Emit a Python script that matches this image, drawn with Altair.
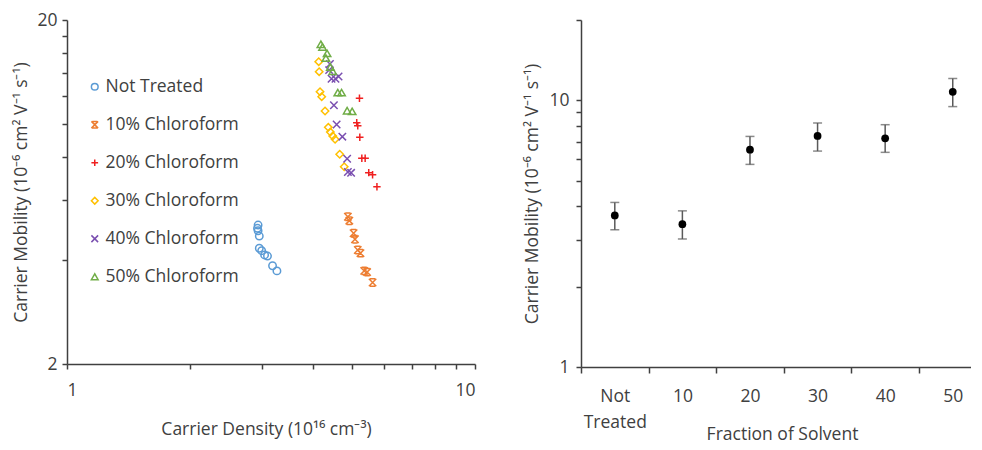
import altair as alt
import pandas as pd

# ---------------- Left panel data: carrier density vs mobility ----------------
series_names = ["Not Treated", "10% Chloroform", "20% Chloroform",
                "30% Chloroform", "40% Chloroform", "50% Chloroform"]

nt_x = [2.94, 2.93, 2.94, 2.96, 2.96, 3.00, 3.05, 3.10, 3.19, 3.27]
nt_y = [5.07, 4.96, 4.88, 4.71, 4.34, 4.27, 4.15, 4.12, 3.86, 3.73]

c10_x = [4.88, 4.92, 5.04, 5.08, 5.16, 5.24, 5.35, 5.44, 5.61]
c10_y = [5.36, 5.22, 4.80, 4.61, 4.29, 4.20, 3.73, 3.70, 3.45]

c20_x = [5.21, 5.13, 5.16, 5.22, 5.28, 5.38, 5.49, 5.61, 5.75]
c20_y = [11.84, 10.06, 9.85, 9.12, 7.93, 7.93, 7.20, 7.10, 6.55]

c30_x = [4.14, 4.15, 4.17, 4.21, 4.29, 4.37, 4.42, 4.48, 4.54, 4.66, 4.78]
c30_y = [15.13, 14.15, 12.38, 11.97, 10.88, 9.75, 9.45, 9.20, 9.00, 8.14, 7.49]

c40_x = [4.41, 4.39, 4.45, 4.55, 4.63, 4.51, 4.58, 4.73, 4.86, 4.88, 4.97]
c40_y = [14.9, 14.3, 13.5, 13.5, 13.7, 11.3, 9.94, 9.16, 7.90, 7.23, 7.19]

c50_x = [4.19, 4.23, 4.34, 4.31, 4.42, 4.48, 4.61, 4.71, 4.86, 5.00]
c50_y = [17.0, 16.7, 16.0, 15.5, 14.6, 14.2, 12.3, 12.3, 10.9, 10.85]

series_colors = ["#5B9BD5", "#ED7D31", "#F02020", "#FFC000", "#7A4FB0", "#70AD47"]
series_shapes = [
    "circle",
    "M-1,-1L1,1M1,-1L-1,1M-0.7,-1L0.7,-1M-0.7,1L0.7,1",
    "M0,-1L0,1M-1,0L1,0",
    "diamond",
    "M-1,-1L1,1M1,-1L-1,1",
    "triangle-up",
]

left_x_ticks = [1, 2, 3, 4, 5, 6, 7, 8, 9, 10]
left_x_labels = [1, 10]
left_y_ticks = [2, 4, 6, 8, 10, 12, 14, 16, 18, 20]
left_y_labels = [2, 20]

# ---------------- Right panel data: mobility vs solvent fraction ----------------
categories = ["Not Treated", "10", "20", "30", "40", "50"]
mobility = [3.70, 3.43, 6.53, 7.35, 7.20, 10.76]
err_high = [4.14, 3.85, 7.32, 8.22, 8.10, 12.07]
err_low = [3.27, 3.02, 5.75, 6.45, 6.38, 9.47]

right_y_ticks = [1, 2, 3, 4, 5, 6, 7, 8, 9, 10, 20]
right_y_labels = [1, 10]

FONT = "Open Sans"
TXT = "#404040"
FS = 17.5

rows = []
for name, xs, ys in zip(series_names,
                        [nt_x, c10_x, c20_x, c30_x, c40_x, c50_x],
                        [nt_y, c10_y, c20_y, c30_y, c40_y, c50_y]):
    for a, b in zip(xs, ys):
        rows.append({"series": name, "density": a, "mobility": b})
left_df = pd.DataFrame(rows)

mob_title = "Carrier Mobility (10⁻⁶ cm² V⁻¹ s⁻¹)"

legend_spec = alt.Legend(
    title=None, orient="none", legendX=19, legendY=58,
    labelFont=FONT, labelFontSize=FS, labelColor=TXT,
    symbolSize=45, symbolStrokeWidth=1.5, rowPadding=19,
    labelOffset=2, padding=0,
)

left = alt.Chart(left_df).mark_point(filled=False, strokeWidth=1.5, size=55, opacity=1).encode(
    x=alt.X("density:Q",
            scale=alt.Scale(type="log", domain=[1, 10], nice=False),
            axis=alt.Axis(values=left_x_ticks, format="d",
                          labelExpr=f"indexof({left_x_labels}, datum.value) >= 0 ? datum.label : ''",
                          title="Carrier Density (10¹⁶ cm⁻³)", titleX=199,
                          tickSize=5, labelPadding=12, titlePadding=22)),
    y=alt.Y("mobility:Q",
            scale=alt.Scale(type="log", domain=[2, 20], nice=False),
            axis=alt.Axis(values=left_y_ticks, format="d",
                          labelExpr=f"indexof({left_y_labels}, datum.value) >= 0 ? datum.label : ''",
                          title=mob_title, tickSize=5, labelPadding=5, titlePadding=6)),
    color=alt.Color("series:N", scale=alt.Scale(domain=series_names, range=series_colors),
                    legend=legend_spec),
    shape=alt.Shape("series:N", scale=alt.Scale(domain=series_names, range=series_shapes),
                    legend=legend_spec),
).properties(width=408, height=344)

right_df = pd.DataFrame({
    "category": categories,
    "pos": [i + 0.5 for i in range(len(categories))],
    "mobility": mobility,
    "hi": err_high,
    "lo": err_low,
})

cats_js = "[" + ",".join(f"'{c}'" for c in categories) + "]"
x_axis = alt.Axis(values=[i * 0.5 for i in range(2 * len(categories))],
                  labelExpr=f"datum.value % 1 == 0.5 ? split({cats_js}[floor(datum.value)], ' ') : ''",
                  tickOpacity={"condition": {"test": "datum.value % 1 == 0", "value": 1}, "value": 0},
                  tickSize=6, labelPadding=14, labelLineHeight=26,
                  title="Fraction of Solvent", titleX=201, titlePadding=-5)
x_enc = alt.X("pos:Q", scale=alt.Scale(domain=[0, 5.77], nice=False, zero=False), axis=x_axis)
y_axis = alt.Axis(values=right_y_ticks, format="d",
                  labelExpr=f"indexof({right_y_labels}, datum.value) >= 0 ? datum.label : ''",
                  title=mob_title, tickSize=5, labelPadding=7, titlePadding=7)
y_scale = alt.Scale(type="log", domain=[1, 20], nice=False)

base = alt.Chart(right_df)
bars = base.mark_rule(color="#5a5a5a", strokeWidth=1.5).encode(
    x=x_enc, y=alt.Y("lo:Q", scale=y_scale, axis=y_axis), y2="hi:Q")
cap_lo = base.mark_tick(color="#5a5a5a", orient="horizontal", size=9, thickness=1.5).encode(
    x=x_enc, y=alt.Y("lo:Q", scale=y_scale, axis=y_axis))
cap_hi = base.mark_tick(color="#5a5a5a", orient="horizontal", size=9, thickness=1.5).encode(
    x=x_enc, y=alt.Y("hi:Q", scale=y_scale, axis=y_axis))
dots = base.mark_circle(color="black", size=60, opacity=1).encode(
    x=x_enc, y=alt.Y("mobility:Q", scale=y_scale, axis=y_axis))

right = alt.layer(bars, cap_lo, cap_hi, dots).properties(width=390, height=347)

chart = alt.hconcat(left, right, spacing=106, bounds="flush").properties(
    padding={"left": 4, "top": 3, "right": 0, "bottom": 6}
).configure_view(stroke=None).configure_axis(
    labelFont=FONT, labelFontSize=FS, labelColor=TXT,
    titleFont=FONT, titleFontSize=FS, titleFontWeight="normal", titleColor=TXT,
    domainColor=TXT, tickColor=TXT, domainWidth=1.5, tickWidth=1.5, grid=False,
)

chart.save("out.html", embed_options={"renderer": "svg", "actions": False})
